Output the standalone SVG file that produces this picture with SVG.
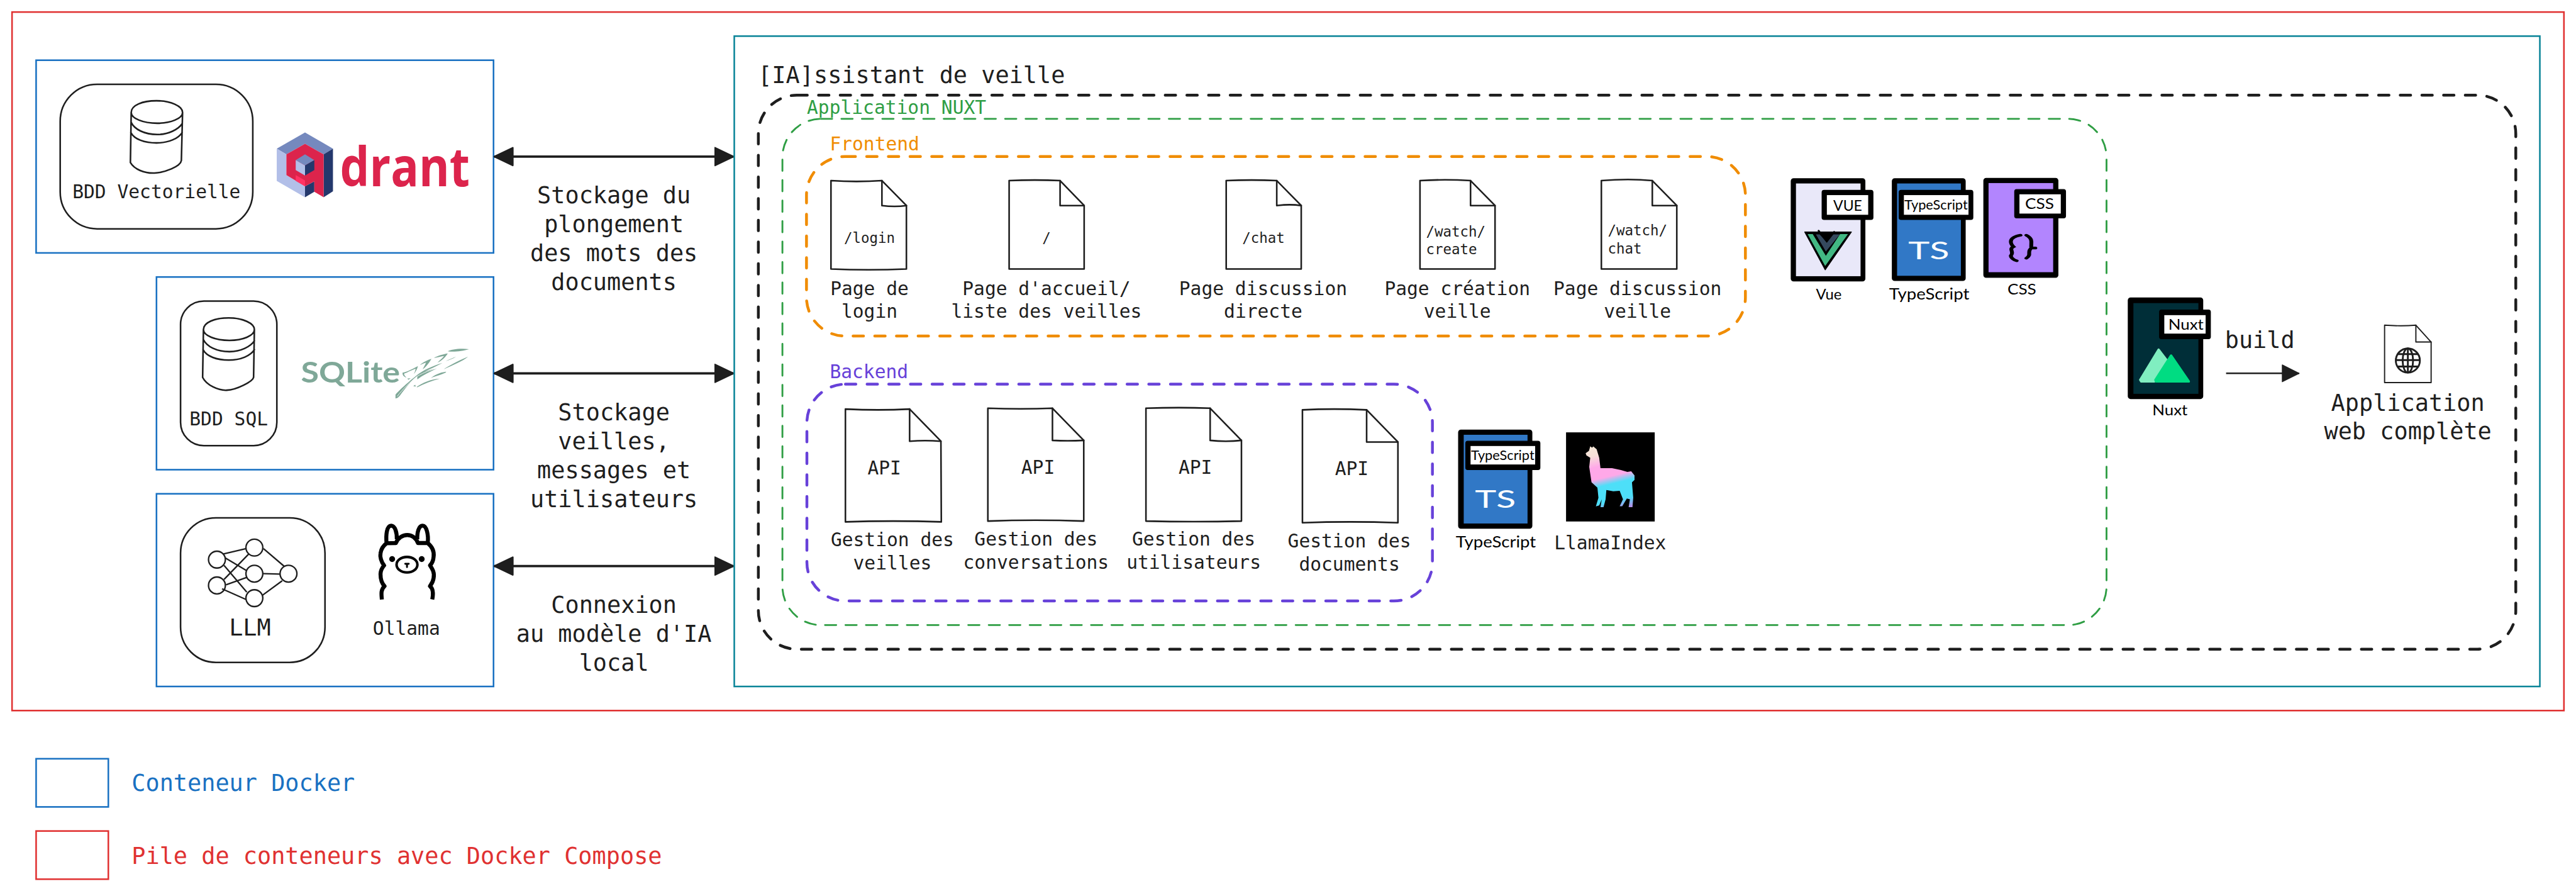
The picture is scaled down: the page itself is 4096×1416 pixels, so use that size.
<svg xmlns="http://www.w3.org/2000/svg" width="4096" height="1416" viewBox="0 0 4096 1416">
<defs>
<style>
text{font-family:"DejaVu Sans Mono","Liberation Mono",monospace;fill:#1e1e1e}
.s60{font-size:57.8px}
.s48{font-size:46.4px}
.s36{font-size:35.2px}
.m{text-anchor:middle}
.hand{font-family:"Lato","Open Sans",sans-serif;fill:#000;text-anchor:middle}
.box{fill:none;stroke-width:4}
.blue{stroke:#1971c2}
.red{stroke:#e03131}
.teal{stroke:#0c8599}
.dash{fill:none;stroke-linecap:round}
.ink{fill:#fff;stroke:#1e1e1e;stroke-width:4;stroke-linejoin:round}
.inkl{fill:none;stroke:#1e1e1e;stroke-width:4;stroke-linejoin:round;stroke-linecap:round}
.shell{fill:#000;stroke:#000;stroke-width:2;stroke-linejoin:round}
.tagw{fill:#fff}
.conn{stroke:#1e1e1e;stroke-width:6;fill:none}
.ol{fill:none;stroke:#000;stroke-width:30;stroke-linejoin:round}
</style>
<marker id="h" markerUnits="userSpaceOnUse" markerWidth="54" markerHeight="52" refX="48" refY="25" orient="auto-start-reverse"><path d="M2,3 L48,25 L2,47 Z" fill="#1e1e1e" stroke="#1e1e1e" stroke-width="4" stroke-linejoin="round"/></marker>
<marker id="h2" markerUnits="userSpaceOnUse" markerWidth="50" markerHeight="48" refX="44" refY="23" orient="auto"><path d="M2,2 L44,23 L2,44 Z" fill="#1e1e1e" stroke="#1e1e1e" stroke-width="2" stroke-linejoin="round"/></marker>
<linearGradient id="lg" gradientUnits="userSpaceOnUse" x1="1040" y1="620" x2="1190" y2="1000"><stop offset="0" stop-color="#f6e6d8"/><stop offset=".12" stop-color="#f6e0d8"/><stop offset=".3" stop-color="#ffa8e8"/><stop offset=".48" stop-color="#ffa8e8"/><stop offset=".6" stop-color="#4ddff8"/><stop offset=".85" stop-color="#4ddff8"/><stop offset="1" stop-color="#b090e8"/></linearGradient>
</defs>
<rect width="4096" height="1416" fill="#fff"/>
<g transform="scale(0.638)">

<g id="stack"><rect class="box red" x="30" y="30" width="6360" height="1740"/></g>

<g id="qdrant-container">
<rect class="box blue" x="90" y="150" width="1140" height="480"/>
<g id="bdd-vectorielle">
<rect class="ink" x="150" y="210" width="480" height="360" rx="92" fill="none"/>
<path class="inkl" d="M327,280 C327,262 355,251 390,251 C425,251 455,264 455,280 C455,295 425,307 392,307 C357,307 327,295 327,280 Z M327,280 L325,405 C335,422 360,432 385,431 C410,430 450,415 452,400 L455,280 M327,305 C335,322 360,335 392,335 C420,335 445,322 454,308 M326,330 C335,347 360,356 390,356 C420,356 445,345 454,330"/>
<text class="s48 m" x="390" y="494">BDD Vectorielle</text>
</g>
<g id="qdrant-logo">
<g transform="scale(.829,.574)">
<polygon points="917,575 1001,645 973,670 917,624 861,670 832,645" fill="#7589be"/>
<polygon points="832,645 861,670 861,760 917,808 917,856 832,785" fill="#b2bfe8"/>
<polygon points="1001,645 1001,830 973,856 973,670" fill="#24386c"/>
<polygon points="917,808 945,787 945,832 917,856" fill="#24386c"/>
<polygon points="861,670 917,624 973,670 973,856 945,832 945,787 917,808 861,760" fill="#dc244c"/>
<polygon points="889,760 917,783 917,808 889,785" fill="#ff3364"/>
<polygon points="917,670 945,695 917,718 889,695" fill="#7589be"/>
<polygon points="889,695 917,718 917,762 889,738" fill="#b2bfe8"/>
<polygon points="945,695 917,718 917,762 945,738" fill="#24386c"/>
</g>
<text x="847" y="464" style="font-family:'Open Sans','DejaVu Sans',sans-serif;font-weight:700;font-size:134px;fill:#dc244c" textLength="324" lengthAdjust="spacingAndGlyphs">drant</text>
</g>
</g>

<g id="sqlite-container">
<rect class="box blue" x="390" y="690" width="840" height="480"/>
<g id="bdd-sql">
<rect class="ink" x="450" y="750" width="240" height="360" rx="58"/>
<path class="inkl" d="M507,821 C507,803 535,792 570,792 C605,792 634,805 634,821 C634,836 605,848 572,848 C537,848 507,836 507,821 Z M507,821 L505,940 C515,960 545,973 565,972 C590,971 630,950 632,940 L634,821 M507,846 C515,863 540,876 572,876 C600,876 625,863 634,849 M506,871 C515,888 540,897 570,897 C600,897 625,886 634,871"/>
<text class="s48 m" x="570" y="1060">BDD SQL</text>
</g>
<g id="sqlite-logo">
<text x="750" y="953" style="font-family:'Lato','DejaVu Sans',sans-serif;font-weight:700;font-size:72px;fill:#7fa898" textLength="247" lengthAdjust="spacingAndGlyphs">SQLite</text>
<path fill="#7fa898" transform="translate(720,820) scale(.3333)" d="M797,490 C820,460 900,390 950,350 C1010,300 1080,275 1148,252 C1090,285 1020,310 965,345 C925,375 870,440 835,490 C825,505 810,518 797,518 Z M850,325 C880,320 940,290 965,275 C960,300 945,320 935,335 C945,310 950,295 945,295 C920,305 880,325 865,330 C855,340 870,350 878,362 C860,355 848,345 850,325 Z M980,268 C1000,250 1040,228 1066,222 C1050,250 1025,285 1000,300 C1010,280 1020,265 1025,250 C1010,255 995,262 980,268 Z M1085,215 C1110,200 1160,185 1188,182 C1170,210 1140,240 1110,250 C1125,235 1150,215 1160,200 C1135,205 1105,212 1085,215 Z M1188,165 C1210,150 1290,140 1347,150 C1300,165 1225,172 1188,165 Z M1172,238 L1250,205 C1230,220 1200,230 1172,238 Z M1158,300 C1190,275 1270,235 1340,205 C1300,240 1220,270 1158,300 Z M1060,365 C1090,345 1120,325 1175,318 C1180,325 1150,335 1060,365 Z M955,432 C1000,400 1060,375 1128,370 C1070,385 1010,410 960,434 Z M930,425 L945,416 L948,430 Z M885,370 L910,366 L895,378 Z M960,340 C1010,315 1060,300 1108,293 C1050,320 1000,345 960,375 Z"/>
<path fill="none" stroke="#fff" stroke-width="4" transform="translate(720,820) scale(.3333)" d="M810,502 C850,450 905,395 960,352 C1010,322 1060,305 1108,293"/>
</g>
</g>

<g id="ollama-container">
<rect class="box blue" x="390" y="1230" width="840" height="480"/>
<g id="llm">
<rect class="ink" x="450" y="1290" width="360" height="360" rx="88"/>
<g transform="translate(500,1340) scale(.3333)" fill="none" stroke="#1e1e1e" stroke-width="11">
<path d="M170,120 L340,80 M470,80 L625,212 M185,150 L345,245 M175,205 L345,405 M175,310 L360,120 M190,350 L345,295 M160,380 L340,460 M470,267 L595,270 M460,430 L610,320"/>
<circle cx="122" cy="162" r="63"/><circle cx="122" cy="355" r="63"/><circle cx="402" cy="72" r="63"/><circle cx="402" cy="267" r="63"/><circle cx="402" cy="450" r="63"/><circle cx="657" cy="267" r="63"/>
</g>
<text class="s60 m" x="623" y="1583">LLM</text>
</g>
<g id="ollama">
<g transform="translate(920,1290) scale(.3333)">
<path class="ol" d="M95,610 C92,570 85,540 115,510 C95,490 85,460 85,420 C85,395 95,375 112,355 C90,330 80,290 85,265 C90,230 110,205 130,190 C125,130 130,58 165,58 C195,60 208,110 207,160 M130,190 L200,188 C215,150 250,128 285,128 C320,128 350,150 365,188 L438,188 C470,215 488,250 482,290 C480,320 470,340 455,355 C475,385 490,410 482,450 C478,480 465,495 455,510 C480,530 480,570 472,610 M360,160 C358,110 370,58 400,58 C430,58 445,130 438,188"/>
<circle cx="172" cy="308" r="22"/><circle cx="393" cy="308" r="22"/>
<ellipse cx="283" cy="350" rx="78" ry="58" fill="none" stroke="#000" stroke-width="19"/>
<path d="M270,343 L296,343 M283,350 L283,368" stroke="#000" stroke-width="14" stroke-linecap="round"/>
</g>
<text class="s48 m" x="1013" y="1582">Ollama</text>
</g>
</g>

<g id="connectors">
<line class="conn" x1="1232" y1="390" x2="1828" y2="390" marker-start="url(#h)" marker-end="url(#h)"/>
<line class="conn" x1="1232" y1="930" x2="1828" y2="930" marker-start="url(#h)" marker-end="url(#h)"/>
<line class="conn" x1="1232" y1="1410" x2="1828" y2="1410" marker-start="url(#h)" marker-end="url(#h)"/>
<line class="conn" style="stroke-width:4" x1="5548" y1="930" x2="5730" y2="930" marker-end="url(#h2)"/>
</g>
<g id="connector-labels">
<text class="s60 m" x="1530" y="507">Stockage du</text>
<text class="s60 m" x="1530" y="579">plongement</text>
<text class="s60 m" x="1530" y="651">des mots des</text>
<text class="s60 m" x="1530" y="723">documents</text>
<text class="s60 m" x="1530" y="1047">Stockage</text>
<text class="s60 m" x="1530" y="1119">veilles,</text>
<text class="s60 m" x="1530" y="1191">messages et</text>
<text class="s60 m" x="1530" y="1263">utilisateurs</text>
<text class="s60 m" x="1530" y="1527">Connexion</text>
<text class="s60 m" x="1530" y="1599">au modèle d'IA</text>
<text class="s60 m" x="1530" y="1671">local</text>
<text class="s60 m" x="5632" y="866">build</text>
</g>

<g id="assistant">
<rect class="box teal" x="1830" y="90" width="4500" height="1620"/>
<text class="s60" x="1889" y="207">[IA]ssistant de veille</text>
<rect class="dash" x="1890" y="237" width="4380" height="1380" rx="96" stroke="#1e1e1e" stroke-width="7" stroke-dasharray="26 28"/>
</g>

<g id="nuxt-app">
<rect class="dash" x="1950" y="296" width="3300" height="1261" rx="96" stroke="#2f9e44" stroke-width="4.5" stroke-dasharray="28 23"/>
<text class="s48" x="2011" y="283" style="fill:#2f9e44">Application NUXT</text>
</g>

<g id="frontend">
<rect class="dash" x="2010" y="390" width="2340" height="447" rx="96" stroke="#f08c00" stroke-width="7" stroke-dasharray="26 28"/>
<text class="s48" x="2068" y="375" style="fill:#f08c00">Frontend</text>
</g>
<g id="page-login">
<path class="ink" d="M2071,450 Q2135,454 2198,450 L2259,512 L2259,670 Q2165,674 2071,670 Z"/><path class="inkl" d="M2198,450 L2198,512 Q2230,516 2259,512"/>
<text class="s36 m" x="2167" y="605">/login</text>
<text class="s48 m" x="2167" y="735">Page de</text><text class="s48 m" x="2167" y="792">login</text>
</g>
<g id="page-accueil">
<path class="ink" d="M2515,450 Q2580,447 2642,450 L2702,512 L2702,670 L2515,670 Z"/><path class="inkl" d="M2642,450 L2642,512 L2702,512"/>
<text class="s36 m" x="2608" y="605">/</text>
<text class="s48 m" x="2608" y="735">Page d'accueil/</text><text class="s48 m" x="2608" y="792">liste des veilles</text>
</g>
<g id="page-chat">
<path class="ink" d="M3056,450 Q3120,447 3182,450 L3243,512 L3243,670 L3056,670 Z"/><path class="inkl" d="M3182,450 L3182,512 Q3215,508 3243,512"/>
<text class="s36 m" x="3149" y="605">/chat</text>
<text class="s48 m" x="3148" y="735">Page discussion</text><text class="s48 m" x="3148" y="792">directe</text>
</g>
<g id="page-watch-create">
<path class="ink" d="M3539,450 Q3600,446 3665,450 L3726,512 L3726,670 L3539,670 Z"/><path class="inkl" d="M3665,450 L3665,512 L3726,512"/>
<text class="s36" x="3554" y="589">/watch/</text><text class="s36" x="3554" y="633">create</text>
<text class="s48 m" x="3632" y="735">Page création</text><text class="s48 m" x="3632" y="792">veille</text>
</g>
<g id="page-watch-chat">
<path class="ink" d="M3991,450 Q4060,444 4118,450 L4179,512 L4179,670 L3991,670 Z"/><path class="inkl" d="M4118,450 L4118,512 L4179,512"/>
<text class="s36" x="4007" y="586">/watch/</text><text class="s36" x="4007" y="631">chat</text>
<text class="s48 m" x="4081" y="735">Page discussion</text><text class="s48 m" x="4081" y="792">veille</text>
</g>

<g id="vue">
<rect class="shell" x="4464" y="445" width="184" height="255" rx="6"/>
<rect x="4476" y="457" width="161" height="231" fill="#e9e8f9"/>
<g transform="translate(4400,420) scale(.3444)">
<polygon points="284,458 622,458 432,732" fill="#000" stroke="#000" stroke-width="6" stroke-linejoin="round"/>
<polygon points="305,473 342,473 437,630 540,473 597,473 432,705" fill="#42b883"/>
<polygon points="365,476 392,476 445,535 490,476 538,476 437,600" fill="#35495e"/>
<path d="M385,450 L443,525 L497,458" fill="none" stroke="#000" stroke-width="14" stroke-linecap="round"/>
</g>
<rect class="shell" x="4541" y="474" width="127" height="73" rx="5"/><rect class="tagw" x="4553" y="486" width="103" height="49"/>
<text class="hand" x="4605" y="525" style="font-size:36px" textLength="72" lengthAdjust="spacingAndGlyphs">VUE</text>
<text class="hand" x="4558" y="746" style="font-size:36px" textLength="64" lengthAdjust="spacingAndGlyphs">Vue</text>
</g>
<g id="typescript-frontend">
<rect class="shell" x="4716" y="445" width="182" height="254" rx="6"/>
<rect x="4728" y="457" width="159" height="230" fill="#3178c6"/>
<rect class="shell" x="4733" y="474" width="184" height="73" rx="5"/><rect class="tagw" x="4745" y="486" width="161" height="49"/>
<text class="hand" x="4825" y="522" style="font-size:32px" textLength="158" lengthAdjust="spacingAndGlyphs">TypeScript</text>
<text class="hand" x="4807" y="645" style="font-size:62px;fill:#fff" textLength="102" lengthAdjust="spacingAndGlyphs">TS</text>
<text class="hand" x="4808" y="746" style="font-size:40px" textLength="200" lengthAdjust="spacingAndGlyphs">TypeScript</text>
</g>
<g id="css">
<rect class="shell" x="4944" y="444" width="185" height="247" rx="6"/>
<rect x="4956" y="456" width="161" height="222" fill="#b285fe"/>
<path transform="translate(4900,200) scale(.9694,.6378)" d="M140,605 C105,615 115,640 122,650 C108,660 125,670 115,685 C115,695 125,703 130,705 M155,605 C175,620 165,640 168,655 C155,670 170,680 155,695 M168,655 L178,655" fill="none" stroke="#000" stroke-width="10" stroke-linecap="round"/>
<rect class="shell" x="5021" y="472" width="127" height="71" rx="5"/><rect class="tagw" x="5033" y="484" width="103" height="48"/>
<text class="hand" x="5083" y="521" style="font-size:36px" textLength="72" lengthAdjust="spacingAndGlyphs">CSS</text>
<text class="hand" x="5039" y="734" style="font-size:36px" textLength="72" lengthAdjust="spacingAndGlyphs">CSS</text>
</g>

<g id="backend">
<rect class="dash" x="2011" y="957" width="1559" height="540" rx="96" stroke="#6741d9" stroke-width="7" stroke-dasharray="26 28"/>
<text class="s48" x="2068" y="942" style="fill:#6741d9">Backend</text>
</g>
<g id="api-veilles">
<path class="ink" d="M2107,1019 Q2190,1023 2267,1019 L2345,1099 L2346,1300 Q2225,1296 2107,1300 Z"/><path class="inkl" d="M2267,1019 L2267,1099 Q2305,1096 2345,1099"/>
<text class="s48 m" x="2204" y="1182">API</text>
<text class="s48 m" x="2224" y="1360">Gestion des</text><text class="s48 m" x="2224" y="1418">veilles</text>
</g>
<g id="api-conversations">
<path class="ink" d="M2462,1017 Q2545,1020 2623,1017 L2701,1097 L2701,1298 Q2580,1294 2462,1298 Z"/><path class="inkl" d="M2623,1017 L2623,1097 Q2660,1099 2701,1097"/>
<text class="s48 m" x="2587" y="1180">API</text>
<text class="s48 m" x="2582" y="1359">Gestion des</text><text class="s48 m" x="2582" y="1417">conversations</text>
</g>
<g id="api-utilisateurs">
<path class="ink" d="M2856,1017 Q2940,1014 3016,1017 L3094,1097 L3094,1298 Q2975,1301 2856,1298 Z"/><path class="inkl" d="M3016,1017 L3016,1097 Q3055,1101 3094,1097"/>
<text class="s48 m" x="2979" y="1180">API</text>
<text class="s48 m" x="2975" y="1359">Gestion des</text><text class="s48 m" x="2975" y="1417">utilisateurs</text>
</g>
<g id="api-documents">
<path class="ink" d="M3246,1021 Q3325,1017 3406,1021 L3484,1101 L3484,1302 Q3365,1298 3246,1302 Z"/><path class="inkl" d="M3406,1021 L3406,1101 L3484,1101"/>
<text class="s48 m" x="3369" y="1184">API</text>
<text class="s48 m" x="3363" y="1364">Gestion des</text><text class="s48 m" x="3363" y="1421">documents</text>
</g>
<g id="typescript-backend">
<rect class="shell" x="3635" y="1071" width="183" height="245" rx="6"/>
<rect x="3648" y="1083" width="159" height="221" fill="#3178c6"/>
<rect class="shell" x="3653" y="1099" width="185" height="71" rx="5"/><rect class="tagw" x="3665" y="1111" width="161" height="46"/>
<text class="hand" x="3745" y="1145" style="font-size:32px" textLength="158" lengthAdjust="spacingAndGlyphs">TypeScript</text>
<text class="hand" x="3727" y="1265" style="font-size:62px;fill:#fff" textLength="102" lengthAdjust="spacingAndGlyphs">TS</text>
<text class="hand" x="3728" y="1364" style="font-size:40px" textLength="200" lengthAdjust="spacingAndGlyphs">TypeScript</text>
</g>
<g id="llamaindex">
<rect x="3903" y="1077" width="221" height="222" fill="#000"/>
<polygon transform="translate(3300,880) scale(.6378,.3827)" fill="url(#lg)" points="1040,605 1047,615 1052,606 1065,625 1075,680 1080,748 1125,748 1160,760 1185,772 1200,768 1213,795 1213,825 1203,840 1208,940 1205,1002 1190,1002 1195,950 1183,945 1165,995 1155,995 1168,950 1155,895 1130,898 1103,890 1100,950 1092,1002 1080,1002 1085,950 1075,990 1062,997 1072,940 1068,875 1045,840 1036,740 1040,680 1025,665 1022,650 1035,635"/>
<text class="s48 m" x="4013" y="1369">LlamaIndex</text>
</g>

<g id="nuxt">
<rect class="shell" x="5304" y="742" width="186" height="251" rx="6"/>
<rect x="5317" y="755" width="162" height="226" fill="#002e38"/>
<g transform="translate(4900,200) scale(.9694,.6378)" stroke-linejoin="round">
<polygon points="495,1050 520,1100 484,1178 450,1178 447,1170" fill="#80eec0" stroke="#80eec0" stroke-width="5"/>
<polygon points="527,1073 573,1175 573,1178 488,1178 486,1170" fill="#00dc82" stroke="#00dc82" stroke-width="5"/>
</g>
<rect class="shell" x="5382" y="772" width="127" height="72" rx="5"/><rect class="tagw" x="5394" y="785" width="103" height="46"/>
<text class="hand" x="5448" y="822" style="font-size:36px" textLength="88" lengthAdjust="spacingAndGlyphs">Nuxt</text>
<text class="hand" x="5408" y="1035" style="font-size:36px" textLength="88" lengthAdjust="spacingAndGlyphs">Nuxt</text>
</g>

<g id="web-app">
<path class="ink" d="M5943,810 Q5985,813 6021,810 L6059,852 L6059,953 L5943,953 Z" style="stroke-width:3"/><path class="inkl" style="stroke-width:3" d="M6021,810 L6021,852 L6059,852"/>
<g fill="none" stroke="#1e1e1e" stroke-width="4.5"><circle cx="6001" cy="898" r="30"/><ellipse cx="6001" cy="898" rx="13" ry="30"/><path d="M6001,868 L6001,928 M5971,897 L6031,897 M5976,882 L6026,882 M5976,913 L6026,913"/></g>
<text class="s60 m" x="6001" y="1023">Application</text>
<text class="s60 m" x="6001" y="1094">web complète</text>
</g>

<g id="legend">
<rect class="box blue" x="90" y="1890" width="180" height="120"/>
<text class="s60" x="328" y="1971" style="fill:#1971c2">Conteneur Docker</text>
<rect class="box red" x="90" y="2070" width="180" height="120"/>
<text class="s60" x="328" y="2152" style="fill:#e03131">Pile de conteneurs avec Docker Compose</text>
</g>
</g>
</svg>
